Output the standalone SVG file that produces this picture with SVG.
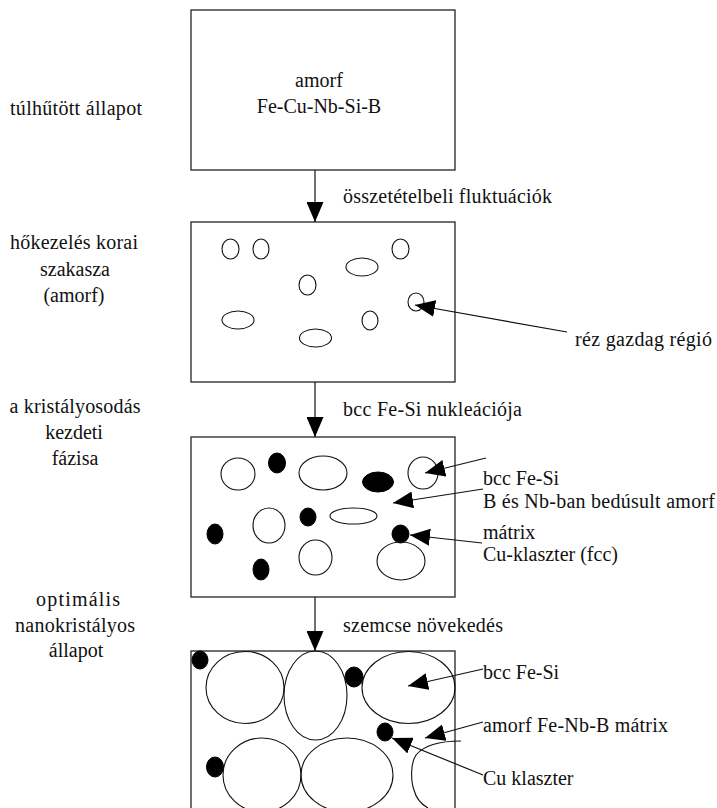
<svg xmlns="http://www.w3.org/2000/svg" width="717" height="808" viewBox="0 0 717 808">
<style>
text{font-family:"Liberation Serif","Times New Roman",serif;font-size:20px;fill:#111}
.box{fill:#fff;stroke:#333;stroke-width:1.4}
.o{fill:none;stroke:#111;stroke-width:1.1}
.f{fill:#000;stroke:#000;stroke-width:1}
.ln{fill:none;stroke:#111;stroke-width:1.2}
.m{text-anchor:middle}
</style>
<defs>
<marker id="ah" markerUnits="userSpaceOnUse" markerWidth="20" markerHeight="17" viewBox="0 0 20 17" refX="20" refY="8.5" orient="auto">
<path d="M0,0 L20,8.5 L0,17 z" fill="#000"/>
</marker>
</defs>
<g id="stage-labels">
<text x="10" y="115" textLength="132" lengthAdjust="spacing">túlhűtött állapot</text>
<text class="m" x="74" y="249" textLength="128" lengthAdjust="spacing">hőkezelés korai</text>
<text class="m" x="75" y="275.5">szakasza</text>
<text class="m" x="74" y="302">(amorf)</text>
<text class="m" x="75" y="413" textLength="131" lengthAdjust="spacing">a kristályosodás</text>
<text class="m" x="74" y="439">kezdeti</text>
<text class="m" x="75" y="465">fázisa</text>
<text class="m" x="78" y="606" textLength="84" lengthAdjust="spacing">optimális</text>
<text class="m" x="75" y="632" textLength="120" lengthAdjust="spacing">nanokristályos</text>
<text class="m" x="76" y="657">állapot</text>
</g>
<g id="box1">
<rect class="box" x="191" y="10" width="264" height="160"/>
<text class="m" x="319" y="87">amorf</text>
<text class="m" x="319" y="113">Fe-Cu-Nb-Si-B</text>
</g>
<g id="box2">
<rect class="box" x="191" y="222" width="264" height="160"/>
<ellipse class="o" cx="230.5" cy="249" rx="8.5" ry="10"/>
<ellipse class="o" cx="261" cy="249" rx="8" ry="10"/>
<ellipse class="o" cx="400.5" cy="249" rx="8.5" ry="10"/>
<ellipse class="o" cx="362" cy="267" rx="16" ry="9"/>
<ellipse class="o" cx="307.5" cy="285" rx="8.5" ry="10"/>
<ellipse class="o" cx="238" cy="320" rx="16" ry="9"/>
<ellipse class="o" cx="370" cy="320.5" rx="8" ry="9.5"/>
<ellipse class="o" cx="315.5" cy="338" rx="16" ry="9"/>
<ellipse class="o" cx="416" cy="302" rx="8" ry="9"/>
</g>
<g id="box3">
<rect class="box" x="191" y="437" width="264" height="160"/>
<ellipse class="o" cx="238" cy="474" rx="17" ry="16"/>
<ellipse class="f" cx="277" cy="463" rx="8.5" ry="10"/>
<ellipse class="o" cx="323" cy="473" rx="24" ry="17"/>
<ellipse class="f" cx="378" cy="482" rx="15.5" ry="10"/>
<ellipse class="o" cx="423" cy="473" rx="15" ry="16"/>
<ellipse class="o" cx="353.5" cy="516" rx="23.5" ry="8"/>
<ellipse class="o" cx="269" cy="525.5" rx="16" ry="17.5"/>
<ellipse class="f" cx="308" cy="517" rx="8" ry="9"/>
<ellipse class="f" cx="215" cy="534" rx="8" ry="10"/>
<ellipse class="f" cx="400.5" cy="534" rx="8.5" ry="9"/>
<ellipse class="o" cx="315.5" cy="557.5" rx="16.5" ry="17.5"/>
<ellipse class="o" cx="401" cy="561" rx="24" ry="19"/>
<ellipse class="f" cx="261" cy="569.5" rx="8" ry="10.5"/>
</g>
<g id="box4">
<rect class="box" x="191" y="651" width="264" height="160"/>
<ellipse class="f" cx="200" cy="660" rx="8" ry="9"/>
<ellipse class="o" cx="245" cy="687.5" rx="39" ry="36"/>
<ellipse class="o" cx="315.5" cy="695.5" rx="31.5" ry="44.5"/>
<ellipse class="f" cx="354" cy="677" rx="9" ry="10"/>
<ellipse class="o" cx="408.5" cy="687.5" rx="46.5" ry="36"/>
<ellipse class="f" cx="385" cy="732" rx="8" ry="9"/>
<ellipse class="f" cx="215" cy="767" rx="8.5" ry="10"/>
<ellipse class="o" cx="262" cy="775" rx="39" ry="37"/>
<ellipse class="o" cx="347" cy="775" rx="46" ry="37"/>
<path class="o" d="M461 741 C445 741 425 744 416 755 C410 764 411 782 414 790 C416 798 421 804 428 808"/>
</g>
<g id="connectors">
<line class="ln" x1="315" y1="170" x2="315" y2="222" marker-end="url(#ah)"/>
<line class="ln" x1="315" y1="382" x2="315" y2="437" marker-end="url(#ah)"/>
<line class="ln" x1="315" y1="597" x2="315" y2="651" marker-end="url(#ah)"/>
<line class="ln" x1="567" y1="332" x2="415" y2="305" marker-end="url(#ah)"/>
<line class="ln" x1="486" y1="458" x2="425" y2="473" marker-end="url(#ah)"/>
<line class="ln" x1="483" y1="489" x2="393" y2="503" marker-end="url(#ah)"/>
<line class="ln" x1="482" y1="543" x2="410" y2="535" marker-end="url(#ah)"/>
<line class="ln" x1="483" y1="669" x2="408" y2="686" marker-end="url(#ah)"/>
<line class="ln" x1="483" y1="722" x2="425" y2="738" marker-end="url(#ah)"/>
<line class="ln" x1="483" y1="775" x2="392" y2="738" marker-end="url(#ah)"/>
</g>
<g id="connector-labels">
<text x="343" y="203" textLength="209" lengthAdjust="spacing">összetételbeli fluktuációk</text>
<text x="343" y="416" textLength="179" lengthAdjust="spacing">bcc Fe-Si nukleációja</text>
<text x="343" y="632" textLength="160" lengthAdjust="spacing">szemcse növekedés</text>
<text x="575" y="346" textLength="137" lengthAdjust="spacing">réz gazdag régió</text>
<text x="483" y="485">bcc Fe-Si</text>
<text x="483" y="508" textLength="232" lengthAdjust="spacing">B és Nb-ban bedúsult amorf</text>
<text x="483" y="539">mátrix</text>
<text x="483" y="561">Cu-klaszter (fcc)</text>
<text x="483" y="679">bcc Fe-Si</text>
<text x="483" y="732" textLength="185" lengthAdjust="spacing">amorf Fe-Nb-B mátrix</text>
<text x="483" y="785">Cu klaszter</text>
</g>
</svg>
